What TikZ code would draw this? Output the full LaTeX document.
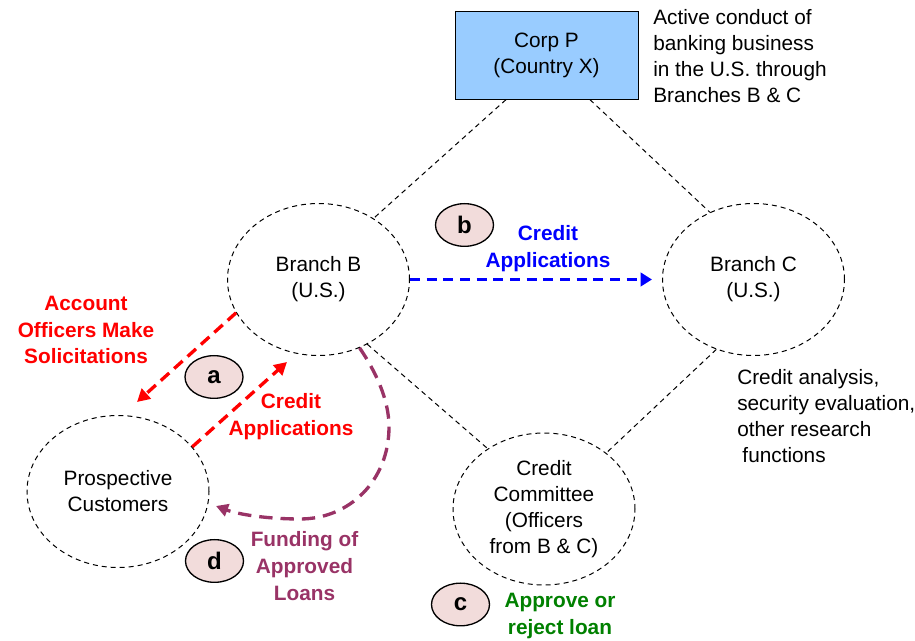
\documentclass[tikz,border=0pt]{standalone}
\usepackage{fontspec}
\setmainfont{Liberation Sans}
\usetikzlibrary{shapes.geometric,arrows.meta}
\definecolor{boxblue}{HTML}{99CCFF}
\definecolor{tagpink}{HTML}{F2DCDB}
\definecolor{plum}{HTML}{993366}
\definecolor{dkgreen}{HTML}{008000}
\begin{document}
\begin{tikzpicture}[x=0.75pt,y=-0.75pt,
  every node/.style={font=\fontsize{15.6}{19.6}\selectfont, inner sep=0pt},
  entity/.style={ellipse, draw, line width=0.75pt, dash pattern=on 3.75pt off 3pt,
    minimum width=136.5pt, minimum height=114pt, align=center},
  tag/.style={ellipse, draw, line width=1pt, fill=tagpink,
    minimum width=43.5pt, minimum height=32pt, font=\fontsize{18}{20}\selectfont\bfseries},
  lbl/.style={align=center, font=\fontsize{15.6}{20.2}\selectfont\bfseries},
  note/.style={anchor=west, align=left},
  tie/.style={line width=0.75pt, dash pattern=on 3.75pt off 3pt},
  redarr/.style={draw=red, line width=2.5pt, dash pattern=on 8.5pt off 5pt,
    -{Triangle[length=9.5pt,width=10pt]}, red},
  bluearr/.style={draw=blue, line width=2.25pt, dash pattern=on 7.5pt off 5pt,
    -{Triangle[length=8.5pt,width=10pt]}, blue},
  purparr/.style={draw=plum, line width=2.5pt, dash pattern=on 10pt off 6pt,
    -{Triangle[length=9pt,width=9.5pt]}, plum}
]
\useasboundingbox (0,0) rectangle (915,641);

% nodes
\node[draw, fill=boxblue, line width=0.75pt, minimum width=137.25pt,
      minimum height=65.5pt, align=center] (corp) at (546.5,55.5) {Corp P\\(Country X)};
\node[note] (note1) at (653,56) {Active conduct of\\banking business\\in the U.S. through\\Branches B \& C};

\node[entity] (bB) at (318.5,279.5) {Branch B\\(U.S.)};
\node[entity] (bC) at (753.5,279.5) {Branch C\\(U.S.)};
\node[entity] (pc) at (118,491.5) {Prospective\\Customers};
\node[entity] (cc) at (544,509) {Credit\\Committee\\(Officers\\from B \& C)};

\node[note] (note2) at (737,416) {Credit analysis,\\security evaluation,\\other research\\\hspace*{0.25em}functions};

\node[tag] (ta) at (214,377) {a};
\node[tag] (tb) at (464.5,225) {b};
\node[tag] (tc) at (460.5,604.5) {c};
\node[tag] (td) at (214.5,561) {d};

\node[lbl, text=red] (l1) at (86,330) {Account\\Officers Make\\Solicitations};
\node[lbl, text=red] (l2) at (291,417) {Credit\\Applications};
\node[lbl, text=blue] (l3) at (548,248.5) {Credit\\Applications};
\node[lbl, text=plum] (l4) at (304.5,566) {Funding of\\Approved\\Loans};
\node[lbl, text=dkgreen] (l5) at (560,616) {Approve or\\reject loan};

% thin dashed ties
\draw[tie] ([xshift=-30.4pt]corp.south) -- (bB.48);
\draw[tie] ([xshift=32.6pt]corp.south) -- (bC.123);
\draw[tie] (bB.-53) -- (cc.133);
\draw[tie] (bC.-118) -- (cc.42);

% arrows
\coordinate (r1end) at (137,402);
\coordinate (r2end) at (287,362);
\coordinate (pend) at (216,506);
\draw[redarr] (bB.202) -- (r1end);
\draw[redarr] (pc.31) -- (r2end);
\draw[bluearr, shorten >=7.5pt] (bB.east) -- (bC.west);
\draw[purparr] (bB.-59) .. controls (376,372) and (389,400) .. (389,427)
  .. controls (389,480) and (350,519) .. (300,519)
  .. controls (270,519) and (240,515) .. (pend);
\end{tikzpicture}
\end{document}
